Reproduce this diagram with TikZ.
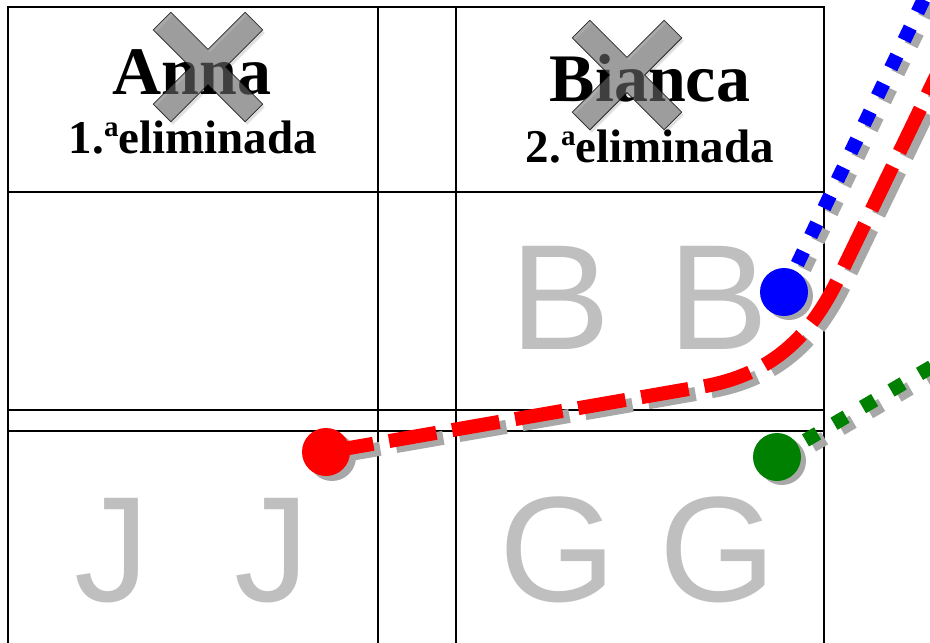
\documentclass[tikz,border=0pt]{standalone}
\usepackage{fontspec}
\setmainfont{Liberation Serif}
\newfontfamily\lettersans{Liberation Sans}
\definecolor{ghost}{RGB}{191,191,191}
\definecolor{shad}{RGB}{168,168,168}
\definecolor{xfill}{RGB}{110,110,110}
\definecolor{dgreen}{RGB}{0,128,0}
\tikzset{
  gridline/.style={line width=1.8pt, black},
  nametext/.style={font=\bfseries\fontsize{68}{68}\selectfont, inner sep=0pt, anchor=base},
  subtext/.style={font=\bfseries\fontsize{47}{47}\selectfont, inner sep=0pt, anchor=base},
  ghostletter/.style={font=\lettersans\fontsize{150}{150}\selectfont, text=ghost, inner sep=0pt, anchor=base},
  dot/.style={circle, minimum size=48pt, inner sep=0pt, draw=none},
  shadowed/.style={transform canvas={xshift=7pt, yshift=-5pt}, draw=shad},
  redline/.style={line width=14pt, dash pattern=on 48pt off 16pt},
  dotline/.style={line width=14pt, dash pattern=on 14pt off 17pt},
  greenline/.style={line width=14pt, dash pattern=on 14pt off 19pt},
  xmark/.pic={
    \fill[black, opacity=0.12, shift={(2,3)}, rotate=45]
      (12.5,12.5)--(65,12.5)--(65,-12.5)--(12.5,-12.5)--(12.5,-65)--(-12.5,-65)--(-12.5,-12.5)--(-65,-12.5)--(-65,12.5)--(-12.5,12.5)--(-12.5,65)--(12.5,65)--cycle;
    \filldraw[fill=xfill, fill opacity=0.58, draw=black, draw opacity=0.8, line width=0.8pt, rotate=45]
      (12.5,12.5)--(65,12.5)--(65,-12.5)--(12.5,-12.5)--(12.5,-65)--(-12.5,-65)--(-12.5,-12.5)--(-65,-12.5)--(-65,12.5)--(-12.5,12.5)--(-12.5,65)--(12.5,65)--cycle;
  }
}
\begin{document}
\begin{tikzpicture}[x=1pt, y=-1pt]
\useasboundingbox (0,0) rectangle (930,643);
\clip (0,0) rectangle (930,643);
\fill[white] (0,0) rectangle (930,643);

% grid
\draw[gridline] (8,7) -- (8,650);
\draw[gridline] (378,7) -- (378,650);
\draw[gridline] (456,7) -- (456,650);
\draw[gridline] (824,7) -- (824,650);
\draw[gridline] (7.1,7) -- (824.9,7);
\draw[gridline] (8,192) -- (824,192);
\draw[gridline] (8,410) -- (824,410);
\draw[gridline] (8,431) -- (824,431);

% ghost letters
\node[ghostletter] (b1) at (561,349) {B};
\node[ghostletter] (b2) at (719,349) {B};
\node[ghostletter] (j1) at (112,601) {J};
\node[ghostletter] (j2) at (272,601) {J};
\node[ghostletter] (g1) at (558,601) {G};
\node[ghostletter] (g2) at (718,601) {G};

% names
\node[nametext] (anna) at (192,94) {Anna};
\node[subtext] (anna2) at (193,153) {1.\raisebox{0.36em}{\fontsize{29}{29}\selectfont a}eliminada};
\node[nametext] (bianca) at (650,101) {Bianca};
\node[subtext] (bianca2) at (650,162) {2.\raisebox{0.36em}{\fontsize{29}{29}\selectfont a}eliminada};
\pic at (208,67) {xmark};
\pic at (627,75) {xmark};

% coordinates
\coordinate (R) at (326,452);
\coordinate (Bl) at (784,292);
\coordinate (Gr) at (777,457);
\coordinate (rA) at (700,387);
\coordinate (rC1) at (780,374);
\coordinate (rC2) at (815,327);
\coordinate (rB) at (840,275);
\coordinate (rEnd) at (942,64);
\coordinate (bEnd) at (932,-18);
\coordinate (gEnd) at (945,359);

% shadows
\draw[redline, shadowed] (R) -- (rA) .. controls (rC1) and (rC2) .. (rB) -- (rEnd);
\draw[dotline, shadowed] (Bl) -- (bEnd);
\draw[greenline, shadowed] (Gr) -- (gEnd);
\fill[shad] ([shift={(6,5)}]R) circle (24);
\fill[shad] ([shift={(5,4)}]Bl) circle (24);
\fill[shad] ([shift={(5,4)}]Gr) circle (24);

% lines
\draw[redline, red] (R) -- (rA) .. controls (rC1) and (rC2) .. (rB) -- (rEnd);
\draw[dotline, blue] (Bl) -- (bEnd);
\draw[greenline, dgreen] (Gr) -- (gEnd);

% dots
\node[dot, fill=red] (rdot) at (R) {};
\node[dot, fill=blue] (bdot) at (Bl) {};
\node[dot, fill=dgreen] (gdot) at (Gr) {};
\end{tikzpicture}
\end{document}
